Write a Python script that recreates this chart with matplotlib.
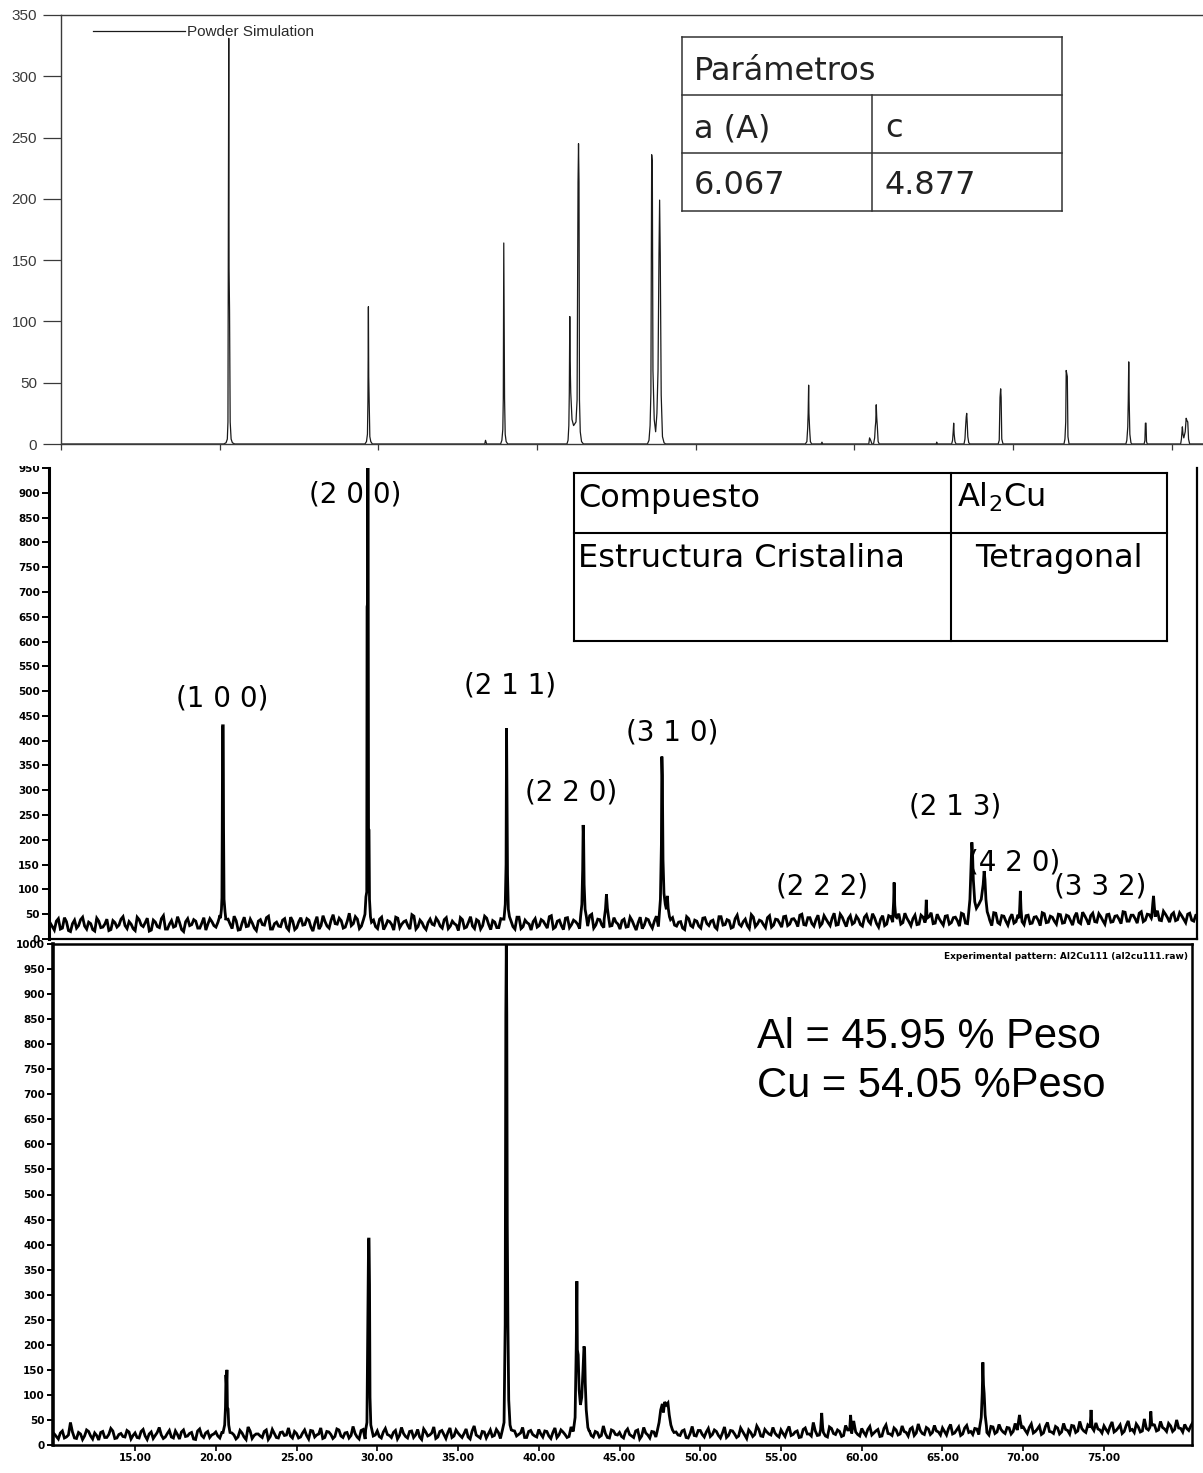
import numpy as np
import matplotlib
matplotlib.use("Agg")
import matplotlib.pyplot as plt
from matplotlib.lines import Line2D
from matplotlib.patches import Rectangle

# ---------------- DATA ----------------
# Top: powder simulation, peak profiles (2theta, intensity)
SIM_PEAKS = [
    [(20.25, 0), (20.40, 1), (20.48, 4), (20.52, 18), (20.54, 143), (20.57, 331), (20.59, 143), (20.62, 109), (20.66, 18), (20.72, 4), (20.80, 1), (20.95, 0)],
    [(29.15, 0), (29.25, 2), (29.31, 8), (29.34, 35), (29.37, 112), (29.39, 55), (29.42, 35), (29.46, 6), (29.52, 2), (29.62, 0)],
    [(36.70, 0), (36.75, 3), (36.82, 0)],
    [(37.70, 0), (37.78, 3), (37.84, 12), (37.87, 37), (37.90, 164), (37.92, 115), (37.95, 37), (37.99, 8), (38.05, 2), (38.15, 0)],
    [(41.88, 0), (41.95, 3), (42.00, 15), (42.03, 42), (42.06, 104), (42.08, 68), (42.12, 42), (42.20, 20), (42.30, 15), (42.45, 18), (42.52, 36), (42.58, 214), (42.61, 245), (42.64, 214), (42.67, 36), (42.72, 10), (42.80, 2), (42.92, 0)],
    [(46.95, 0), (47.05, 3), (47.12, 15), (47.17, 42), (47.22, 236), (47.26, 229), (47.30, 60), (47.38, 20), (47.47, 10), (47.55, 25), (47.62, 60), (47.68, 154), (47.72, 199), (47.76, 154), (47.82, 40), (47.90, 6), (48.00, 1), (48.10, 0)],
    [(56.90, 0), (57.00, 2), (57.05, 13), (57.08, 25), (57.11, 48), (57.13, 25), (57.17, 13), (57.22, 2), (57.30, 0)],
    [(57.90, 0), (57.95, 1.5), (58.00, 0)],
    [(60.90, 0), (60.95, 5), (61.02, 3), (61.10, 0)],
    [(61.20, 0), (61.27, 5), (61.31, 14), (61.34, 18), (61.37, 32), (61.40, 22), (61.44, 14), (61.49, 2), (61.56, 0)],
    [(65.15, 0), (65.18, 1.5), (65.22, 0)],
    [(66.12, 0), (66.18, 3), (66.22, 10), (66.25, 17), (66.28, 8), (66.33, 2), (66.40, 0)],
    [(66.90, 0), (66.96, 4), (67.00, 14), (67.04, 22), (67.07, 25), (67.10, 18), (67.14, 6), (67.20, 1), (67.28, 0)],
    [(69.05, 0), (69.12, 3), (69.17, 38), (69.21, 45), (69.24, 38), (69.28, 4), (69.36, 0)],
    [(73.20, 0), (73.26, 4), (73.31, 18), (73.34, 60), (73.38, 57), (73.41, 55), (73.45, 6), (73.52, 0)],
    [(77.10, 0), (77.16, 3), (77.22, 14), (77.25, 35), (77.28, 67), (77.31, 35), (77.35, 8), (77.42, 1), (77.48, 0)],
    [(78.25, 0), (78.30, 3), (78.33, 17), (78.37, 17), (78.40, 2), (78.45, 0)],
    [(80.55, 0), (80.60, 4), (80.66, 14), (80.70, 8), (80.75, 5), (80.84, 10), (80.90, 21), (80.95, 19), (81.00, 18), (81.05, 4), (81.12, 0)],
]
SIM_YTICKS = [0, 50, 100, 150, 200, 250, 300, 350]
SIM_XTICKS = [10, 20, 30, 40, 50, 60, 70, 80]

# Middle: experimental pattern with hkl labels (background read every 0.125 deg)
MID_X0, MID_STEP = 9.75, 0.25
MID_BG = [
    32, 18, 41, 22, 35, 15, 38, 27, 44, 20, 31, 16, 36, 24, 40, 19, 33, 28, 45, 21,
    30, 17, 39, 25, 42, 18, 34, 23, 47, 20, 37, 26, 33, 15, 41, 29, 36, 22, 43, 30,
    35, 24, 48, 27, 40, 21, 37, 19, 44, 26, 32, 17, 39, 28, 46, 20, 34, 25, 41, 18,
    36, 23, 43, 29, 38, 16, 45, 27, 35, 22, 49, 30, 37, 24, 52, 31, 40, 26, 47, 33,
    38, 21, 44, 27, 35, 18, 42, 30, 37, 20, 46, 25, 33, 19, 40, 28, 36, 22, 43, 26,
    31, 17, 39, 24, 45, 21, 36, 27, 42, 19, 34, 23, 40, 26, 37, 20, 44, 25, 33, 18,
    41, 27, 36, 22, 47, 24, 38, 19, 43, 29, 35, 21, 42, 26, 50, 28, 39, 23, 45, 27,
    34, 20, 40, 25, 37, 18, 44, 28, 39, 22, 46, 27, 38, 21, 43, 26, 35, 19, 41, 24,
    36, 22, 43, 27, 38, 20, 45, 29, 37, 24, 48, 26, 40, 21, 44, 30, 36, 23, 47, 28,
    39, 24, 46, 30, 41, 25, 50, 28, 43, 26, 48, 31, 40, 27, 52, 29, 44, 25, 47, 33,
    40, 26, 49, 31, 43, 24, 47, 30, 45, 28, 51, 33, 42, 27, 48, 30, 44, 29, 53, 32,
    41, 28, 47, 33, 44, 26, 50, 31, 42, 29, 49, 34, 45, 27, 52, 30, 46, 28, 50, 35,
    43, 29, 48, 32, 45, 27, 51, 34, 44, 30, 49, 33, 46, 28, 53, 31, 47, 29, 52, 34,
    45, 30, 50, 35, 47, 31, 54, 36, 48, 32, 55, 38, 49, 33, 57, 37, 50, 34, 53, 39,
    47, 33, 52, 36, 49,
]
MID_BG_HALF = [
    25, 36, 20, 43, 17, 31, 22, 39, 26, 34, 19, 42, 23, 30, 17, 37, 24, 40, 27, 35,
    21, 44, 28, 33, 16, 38, 25, 41, 20, 30, 24, 45, 19, 35, 27, 39, 22, 32, 18, 41,
    27, 34, 21, 39, 30, 46, 18, 33, 25, 40, 22, 36, 29, 43, 20, 31, 26, 38, 23, 44,
    19, 35, 28, 41, 24, 33, 20, 47, 26, 38, 31, 42, 22, 36, 27, 45, 21, 39, 30, 34,
    25, 40, 19, 37, 29, 44, 23, 35, 27, 49, 20, 38, 24, 33, 30, 42, 26, 39, 21, 36,
    28, 43, 22, 34, 26, 39, 20, 46, 29, 37, 23, 41, 27, 32, 25, 44, 21, 38, 30, 35,
    24, 39, 29, 45, 21, 36, 27, 42, 23, 38, 30, 33, 25, 47, 22, 40, 28, 35, 26, 43,
    30, 37, 24, 44, 27, 33, 21, 41, 29, 36, 25, 48, 23, 39, 28, 34, 22, 45, 27, 38,
    26, 42, 31, 36, 24, 45, 28, 39, 22, 41, 30, 35, 27, 49, 25, 38, 29, 43, 24, 40,
    32, 45, 27, 40, 35, 48, 29, 43, 31, 39, 26, 47, 33, 42, 28, 50, 34, 41, 30, 46,
    29, 44, 36, 51, 31, 40, 27, 47, 34, 43, 30, 52, 35, 41, 29, 48, 33, 45, 31, 50,
    34, 46, 30, 43, 37, 52, 32, 45, 35, 48, 31, 44, 38, 53, 33, 47, 36, 42, 32, 49,
    35, 47, 31, 44, 38, 53, 33, 46, 36, 50, 32, 48, 37, 45, 34, 54, 39, 47, 35, 51,
    37, 49, 34, 46, 40, 55, 36, 48, 41, 52, 35, 50, 42, 47, 38, 56, 43, 49, 37, 53,
    40, 50, 38, 48,
]
MID_PEAKS = [
    [(20.28, 42), (20.34, 60), (20.37, 83), (20.39, 225), (20.41, 430), (20.45, 430), (20.47, 225), (20.50, 80), (20.56, 55), (20.62, 38)],
    [(29.22, 50), (29.28, 85), (29.33, 95), (29.35, 670), (29.38, 677), (29.40, 1000), (29.42, 737), (29.44, 222), (29.47, 220), (29.50, 80), (29.56, 45)],
    [(37.82, 40), (37.90, 70), (37.95, 150), (37.98, 425), (38.01, 280), (38.04, 130), (38.09, 60), (38.16, 45)],
    [(42.56, 45), (42.64, 70), (42.69, 140), (42.72, 230), (42.75, 200), (42.78, 110), (42.84, 60), (42.92, 45)],
    [(44.02, 40), (44.10, 60), (44.16, 90), (44.22, 62), (44.30, 42)],
    [(47.42, 45), (47.50, 80), (47.56, 190), (47.59, 368), (47.62, 330), (47.66, 160), (47.72, 92), (47.80, 70), (47.87, 60), (47.93, 87), (47.98, 62), (48.06, 45)],
    [(61.88, 45), (61.93, 75), (61.96, 114), (62.00, 68), (62.06, 45)],
    [(63.90, 42), (63.95, 79), (64.00, 42)],
    [(66.55, 45), (66.65, 80), (66.72, 150), (66.77, 195), (66.81, 175), (66.86, 120), (66.95, 75), (67.05, 62), (67.20, 70), (67.35, 80), (67.47, 110), (67.53, 137), (67.58, 120), (67.64, 80), (67.72, 55), (67.82, 45)],
    [(69.70, 42), (69.74, 70), (69.77, 97), (69.81, 60), (69.86, 42)],
    [(77.90, 45), (77.96, 70), (78.01, 87), (78.06, 65), (78.12, 45)],
]
MID_YTICKS = list(range(0, 951, 50))
HKL_LABELS = ["(1 0 0)", "(2 0 0)", "(2 1 1)", "(2 2 0)", "(3 1 0)", "(2 2 2)", "(2 1 3)", "(4 2 0)", "(3 3 2)"]

# Bottom: experimental pattern Al2Cu111 (background read every 0.125 deg)
BOT_X0, BOT_STEP = 10.0, 0.25
BOT_BG = [
    22, 12, 28, 16, 45, 14, 25, 11, 30, 18, 24, 10, 27, 15, 33, 13, 21, 17, 29, 12,
    24, 14, 31, 11, 26, 19, 35, 13, 23, 16, 28, 12, 30, 18, 25, 11, 32, 15, 27, 20,
    26, 14, 33, 17, 24, 12, 29, 16, 36, 13, 22, 18, 27, 11, 31, 15, 25, 19, 34, 14,
    23, 16, 30, 12, 28, 20, 34, 15, 26, 13, 32, 18, 24, 14, 37, 16, 29, 12, 43, 18,
    28, 14, 33, 19, 25, 12, 35, 17, 27, 15, 31, 11, 26, 20, 36, 16, 29, 13, 34, 18,
    24, 15, 32, 12, 38, 17, 27, 14, 30, 19, 25, 8, 33, 16, 28, 21, 35, 15, 29, 18,
    31, 16, 27, 13, 34, 20, 26, 15, 36, 18, 29, 14, 33, 19, 27, 16, 38, 15, 30, 21,
    25, 14, 32, 18, 28, 12, 35, 20, 27, 16, 31, 13, 34, 17, 26, 19, 30, 14, 37, 18,
    29, 16, 33, 21, 27, 14, 36, 19, 28, 15, 34, 20, 30, 17, 38, 18, 31, 22, 35, 19,
    30, 17, 37, 21, 28, 16, 34, 22, 45, 19, 32, 18, 36, 23, 30, 17, 39, 20, 48, 21,
    33, 19, 37, 24, 31, 18, 40, 22, 34, 20, 38, 25, 32, 19, 42, 23, 35, 21, 39, 26,
    34, 20, 41, 24, 36, 22, 39, 27, 33, 21, 44, 25, 37, 23, 41, 26, 35, 22, 43, 28,
    36, 23, 42, 27, 38, 24, 45, 26, 37, 22, 43, 29, 39, 25, 47, 28, 40, 24, 44, 30,
    38, 25, 46, 29, 40, 27, 48, 31, 42, 26, 52, 30, 41, 28, 47, 32, 43, 27, 50, 33,
    41, 29, 45,
]
BOT_BG_HALF = [
    17, 24, 14, 20, 26, 13, 22, 18, 27, 12, 19, 25, 15, 21, 28, 14, 23, 16, 26, 19,
    15, 27, 18, 22, 13, 25, 20, 16, 29, 14, 21, 26, 17, 23, 12, 28, 19, 24, 15, 22,
    18, 25, 13, 27, 20, 16, 24, 11, 28, 19, 22, 15, 30, 17, 23, 14, 26, 20, 18, 27,
    14, 24, 19, 29, 16, 22, 13, 27, 21, 17, 30, 15, 25, 19, 23, 12, 31, 18, 26, 20,
    17, 26, 21, 15, 29, 19, 23, 14, 28, 20, 16, 32, 18, 24, 13, 27, 21, 25, 15, 30,
    19, 23, 16, 28, 20, 14, 26, 22, 17, 31, 13, 25, 19, 29, 18, 24, 15, 27, 21, 16,
    22, 28, 18, 25, 15, 30, 21, 17, 27, 13, 24, 20, 29, 16, 25, 19, 23, 14, 28, 20,
    17, 27, 21, 15, 30, 18, 24, 14, 26, 22, 19, 31, 16, 25, 20, 28, 15, 23, 19, 29,
    21, 26, 17, 30, 19, 24, 15, 29, 22, 18, 27, 13, 25, 21, 31, 17, 26, 20, 24, 16,
    23, 29, 19, 26, 15, 31, 22, 18, 28, 20, 25, 16, 33, 21, 27, 19, 30, 23, 26, 18,
    25, 31, 20, 28, 17, 33, 23, 19, 30, 22, 27, 18, 35, 24, 29, 21, 32, 25, 28, 20,
    27, 33, 22, 30, 19, 34, 25, 21, 32, 24, 29, 20, 36, 26, 31, 23, 34, 27, 30, 22,
    29, 35, 24, 32, 21, 37, 27, 23, 34, 26, 31, 22, 38, 28, 33, 25, 36, 29, 32, 24,
    31, 37, 26, 34, 23, 39, 29, 25, 36, 28, 33, 24, 40, 30, 35, 27, 38, 31, 34, 26,
    33, 38,
]
BOT_PEAKS = [
    [(20.45, 25), (20.55, 40), (20.60, 75), (20.63, 140), (20.66, 120), (20.69, 150), (20.72, 75), (20.76, 72), (20.80, 40), (20.88, 25)],
    [(29.28, 30), (29.36, 45), (29.42, 280), (29.46, 411), (29.49, 411), (29.52, 320), (29.55, 95), (29.60, 40), (29.68, 28)],
    [(37.75, 30), (37.85, 45), (37.92, 240), (37.96, 860), (37.99, 1000), (38.02, 860), (38.05, 440), (38.09, 240), (38.14, 90), (38.22, 40), (38.30, 30)],
    [(42.15, 30), (42.25, 55), (42.32, 195), (42.36, 327), (42.39, 190), (42.44, 180), (42.50, 110), (42.58, 80), (42.66, 95), (42.74, 150), (42.80, 197), (42.84, 190), (42.88, 123), (42.94, 70), (43.04, 35), (43.12, 28)],
    [(47.35, 30), (47.45, 45), (47.55, 70), (47.65, 82), (47.72, 65), (47.80, 86), (47.90, 80), (48.00, 84), (48.08, 60), (48.18, 40), (48.28, 30)],
    [(57.45, 30), (57.52, 64), (57.58, 35)],
    [(59.25, 30), (59.31, 60), (59.37, 30)],
    [(67.30, 35), (67.40, 55), (67.46, 103), (67.50, 165), (67.54, 120), (67.58, 103), (67.64, 60), (67.72, 38)],
    [(69.65, 33), (69.72, 50), (69.77, 60), (69.82, 48), (69.90, 35)],
    [(74.14, 35), (74.20, 70), (74.26, 35)],
    [(77.84, 35), (77.90, 67), (77.96, 38)],
]
BOT_YTICKS = list(range(0, 1001, 50))
BOT_XTICKS = [15, 20, 25, 30, 35, 40, 45, 50, 55, 60, 65, 70, 75]

TABLE1 = [["Parámetros"], ["a (A)", "c"], ["6.067", "4.877"]]
TABLE2 = [["Compuesto", "Al$_2$Cu"], ["Estructura Cristalina", "Tetragonal"]]
COMPOSITION = ["Al = 45.95 % Peso", "Cu = 54.05 %Peso"]


# ---------------- HELPERS ----------------
def merge(bg_x, bg_y, peaks):
    bg_x = np.asarray(bg_x, float)
    bg_y = np.asarray(bg_y, float)
    keep = np.ones(len(bg_x), bool)
    for prof in peaks:
        xs = [p[0] for p in prof]
        keep &= ~((bg_x >= min(xs)) & (bg_x <= max(xs)))
    px = [p[0] for prof in peaks for p in prof]
    py = [p[1] for prof in peaks for p in prof]
    x = np.concatenate([bg_x[keep], px])
    y = np.concatenate([bg_y[keep], py])
    o = np.argsort(x, kind="stable")
    return x[o], y[o]


W, H = 1203, 1473
fig = plt.figure(figsize=(W / 100, H / 100), dpi=100)
plt.rcParams["mathtext.fontset"] = "dejavusans"


def fx(px):
    return px / W


def fy(py):
    return 1 - py / H


def PT(px):
    return px * 0.72


# ---------------- TOP PANEL ----------------
ax1 = fig.add_axes([fx(61), fy(444), fx(1203) - fx(61), fy(15) - fy(444)])
sx, sy = merge([10.0, 82.0], [0, 0], SIM_PEAKS)
ax1.plot(sx, sy, color="#1a1a1a", lw=0.9, label="Powder Simulation")
ax1.set_xlim(10, 81.96)
ax1.set_ylim(0, 350)
ax1.spines["right"].set_visible(False)
for s in ["left", "bottom", "top"]:
    ax1.spines[s].set_color("#3a3a3a")
    ax1.spines[s].set_linewidth(1.0)
ax1.set_yticks(SIM_YTICKS)
ax1.set_xticks(SIM_XTICKS)
ax1.set_xticklabels([])
ax1.tick_params(axis="y", direction="out", length=PT(18), width=0.9, color="#3a3a3a",
                pad=PT(6), labelsize=11, labelcolor="#3a3a3a")
ax1.tick_params(axis="x", direction="out", length=PT(6), width=0.9, color="#3a3a3a")
for t in ax1.get_yticklabels():
    t.set_fontfamily("Liberation Sans")
leg = ax1.legend(loc="upper left", bbox_to_anchor=((93 - 61) / 1142, (444 - 25) / 429),
                 frameon=False, handlelength=6.0, handletextpad=0.15, borderpad=0,
                 borderaxespad=0, prop={"family": "Liberation Sans", "size": 11})
for t in leg.get_texts():
    t.set_color("#2a2a2a")

# ---------------- MIDDLE PANEL ----------------
ax2 = fig.add_axes([fx(49), fy(939), fx(1197) - fx(49), fy(468) - fy(939)])
mx = np.concatenate([MID_X0 + MID_STEP * np.arange(len(MID_BG)),
                     MID_X0 + MID_STEP / 2 + MID_STEP * np.arange(len(MID_BG_HALF))])
mxx, myy = merge(mx, list(MID_BG) + list(MID_BG_HALF), MID_PEAKS)
ax2.plot(mxx, myy, color="black", lw=2.0, zorder=3, solid_joinstyle="miter")
ax2.set_xlim(9.67, 80.70)
ax2.set_ylim(0, 950)
ax2.spines["top"].set_visible(False)
ax2.spines["left"].set_linewidth(2.2)
ax2.spines["right"].set_linewidth(1.6)
ax2.spines["bottom"].set_linewidth(1.6)
ax2.set_yticks(MID_YTICKS)
ax2.set_xticks([])
ax2.tick_params(axis="y", direction="out", length=PT(7), width=1.4, pad=PT(2), labelsize=7.5)
for t in ax2.get_yticklabels():
    t.set_fontweight("bold")
    t.set_fontfamily("DejaVu Sans")

# the top of the middle image is cropped in the reference (half of the "950" label)
fig.add_artist(Rectangle((0, fy(466)), fx(46), fy(452) - fy(466), transform=fig.transFigure,
                         facecolor="white", edgecolor="none", zorder=10))

hkl_pos = [(222, 698), (355, 494), (510, 686), (571, 792), (672, 732),
           (822, 887), (955, 806), (1014, 862), (1100, 887)]
for lab, (px, py) in zip(HKL_LABELS, hkl_pos):
    fig.text(fx(px), fy(py), lab, ha="center", va="center", fontsize=20,
             family="DejaVu Sans", zorder=1)


def fline(x0, y0, x1, y1, lw, color="black"):
    fig.add_artist(Line2D([fx(x0), fx(x1)], [fy(y0), fy(y1)], lw=lw, color=color,
                          transform=fig.transFigure, solid_capstyle="projecting"))


# table 2 (middle)
t2l, t2r, t2t, t2m, t2b, t2c = 574, 1167, 473, 533, 641, 951
for yy in (t2t, t2m, t2b):
    fline(t2l, yy, t2r, yy, 1.5)
for xx in (t2l, t2c, t2r):
    fline(xx, t2t, xx, t2b, 1.5)
fig.text(fx(578), fy(507), TABLE2[0][0], fontsize=23, family="DejaVu Sans", va="baseline")
fig.text(fx(957), fy(507), TABLE2[0][1], fontsize=23, family="DejaVu Sans", va="baseline")
fig.text(fx(578), fy(567), TABLE2[1][0], fontsize=23, family="DejaVu Sans", va="baseline")
fig.text(fx(1059), fy(567), TABLE2[1][1], fontsize=23, family="DejaVu Sans", va="baseline", ha="center")

# table 1 (top)
t1l, t1r, t1t, t1a, t1b, t1bot, t1c = 682, 1062, 37, 95, 153, 211, 872
for yy in (t1t, t1a, t1b, t1bot):
    fline(t1l, yy, t1r, yy, 1.1, "#333333")
for xx in (t1l, t1r):
    fline(xx, t1t, xx, t1bot, 1.1, "#333333")
fline(t1c, t1a, t1c, t1bot, 1.1, "#333333")
fig.text(fx(694), fy(80), TABLE1[0][0], fontsize=23, family="DejaVu Sans", va="baseline", color="#222222")
fig.text(fx(694), fy(137), TABLE1[1][0], fontsize=23, family="DejaVu Sans", va="baseline", color="#222222")
fig.text(fx(885), fy(137), TABLE1[1][1], fontsize=23, family="DejaVu Sans", va="baseline", color="#222222")
fig.text(fx(694), fy(194), TABLE1[2][0], fontsize=23, family="DejaVu Sans", va="baseline", color="#222222")
fig.text(fx(885), fy(194), TABLE1[2][1], fontsize=23, family="DejaVu Sans", va="baseline", color="#222222")

# ---------------- BOTTOM PANEL ----------------
ax3 = fig.add_axes([fx(53), fy(1445), fx(1192) - fx(53), fy(944) - fy(1445)])
bx = np.concatenate([BOT_X0 + BOT_STEP * np.arange(len(BOT_BG)),
                     BOT_X0 + BOT_STEP / 2 + BOT_STEP * np.arange(len(BOT_BG_HALF))])
bxx, byy = merge(bx, list(BOT_BG) + list(BOT_BG_HALF), BOT_PEAKS)
ax3.plot(bxx, byy, color="black", lw=2.0, solid_joinstyle="miter")
ax3.set_xlim(9.92, 80.45)
ax3.set_ylim(0, 1000)
ax3.spines["left"].set_linewidth(2.6)
for s in ["top", "right", "bottom"]:
    ax3.spines[s].set_linewidth(1.8)
ax3.set_yticks(BOT_YTICKS)
ax3.set_xticks(BOT_XTICKS)
ax3.set_xticklabels(["%.2f" % v for v in BOT_XTICKS])
ax3.tick_params(axis="y", direction="out", length=PT(6), width=1.4, pad=PT(2), labelsize=7.5)
ax3.tick_params(axis="x", direction="out", length=PT(6), width=1.2, pad=PT(2), labelsize=7.5)
for t in ax3.get_yticklabels() + ax3.get_xticklabels():
    t.set_fontweight("bold")
    t.set_fontfamily("DejaVu Sans")
ax3.text(0.9965, 0.976, "Experimental pattern: Al2Cu111 (al2cu111.raw)", transform=ax3.transAxes,
         ha="right", va="center", fontsize=6.5, fontweight="bold", family="DejaVu Sans")
fig.text(fx(757), fy(1048), COMPOSITION[0], fontsize=30, family="Liberation Sans", va="baseline")
fig.text(fx(757), fy(1097), COMPOSITION[1], fontsize=30, family="Liberation Sans", va="baseline")

fig.savefig("out.png", dpi=100, facecolor="white")
